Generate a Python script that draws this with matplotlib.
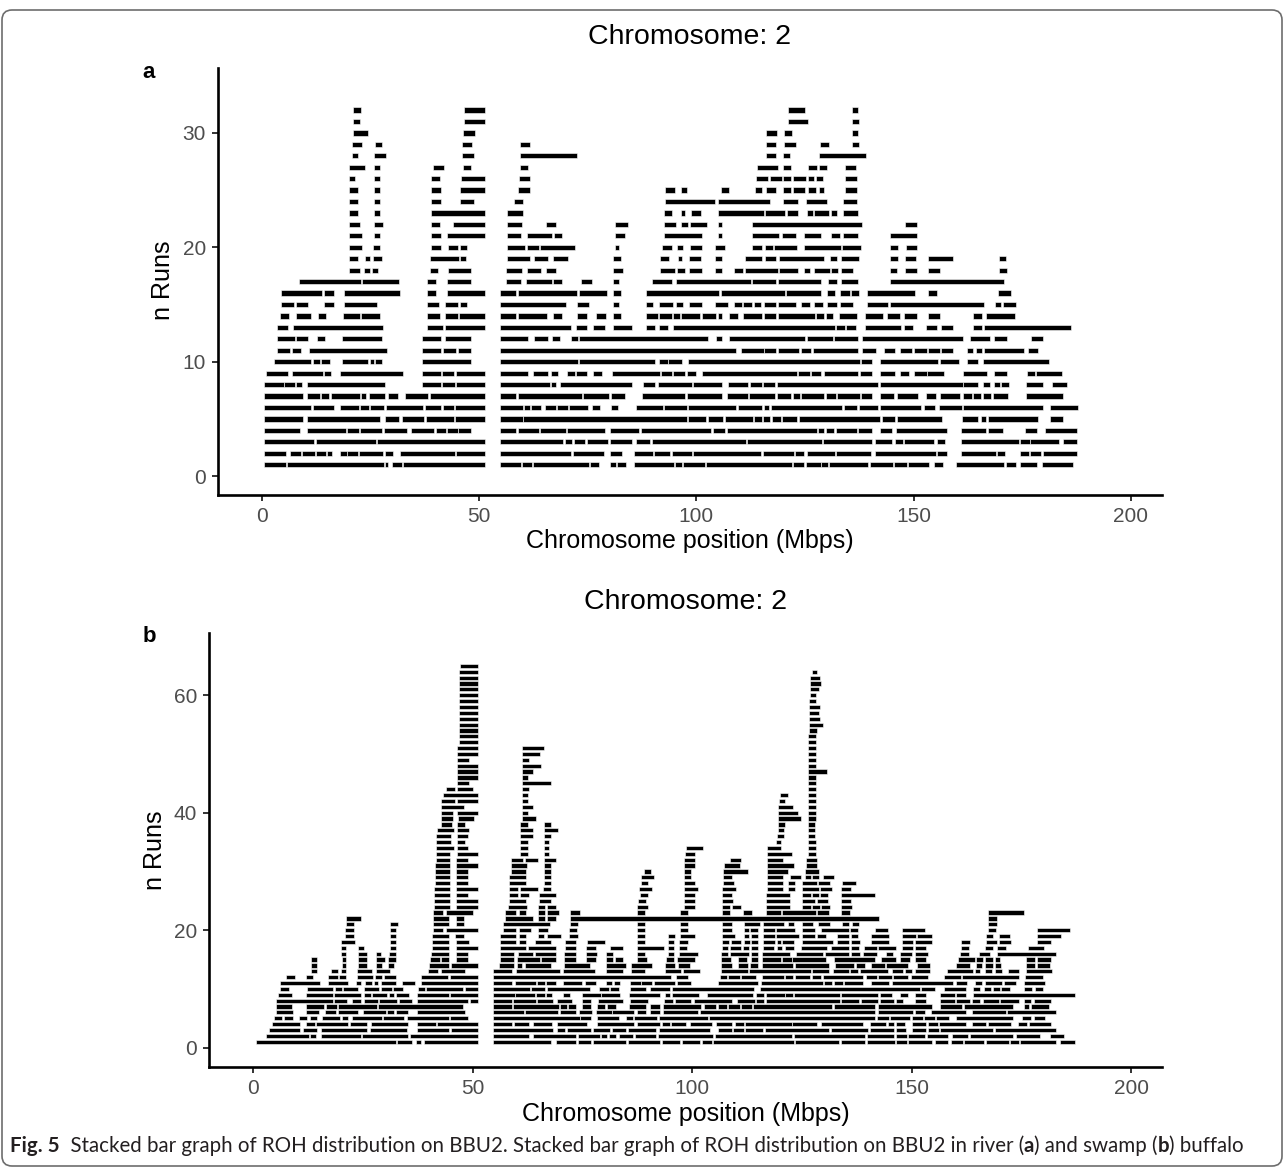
import matplotlib.pyplot as plt
from matplotlib.patches import FancyBboxPatch

# ROH runs per stack level, (start, end) in Mbps -- river buffalo (a)
runs_a = {
    32: [(21.0, 22.8), (46.6, 51.4), (121.2, 125.0), (135.8, 137.2)],
    31: [(20.9, 22.6), (46.5, 51.4), (121.1, 125.7), (135.8, 137.4)],
    30: [(20.9, 24.5), (46.2, 49.1), (116.1, 118.6), (120.1, 122.1), (135.8, 137.2)],
    29: [(20.7, 23.1), (26.0, 27.7), (46.1, 48.3), (59.4, 61.7), (116.1, 118.4), (120.1, 123.0), (128.4, 130.5), (135.8, 137.5)],
    28: [(20.7, 22.2), (25.7, 28.5), (46.1, 48.9), (59.4, 72.6), (116.1, 118.4), (120.0, 121.6), (128.2, 139.0)],
    27: [(20.0, 23.8), (25.7, 27.3), (39.5, 42.0), (46.2, 48.1), (59.4, 61.3), (113.9, 118.7), (119.9, 121.9), (125.8, 127.7),
         (128.2, 130.0), (134.2, 136.8)],
    26: [(20.0, 21.4), (25.7, 27.3), (39.0, 41.0), (45.9, 51.4), (59.3, 61.7), (113.8, 116.6), (116.9, 119.7), (119.9, 121.9),
         (122.3, 125.2), (125.7, 127.1), (127.5, 129.2), (134.2, 137.1)],
    25: [(20.0, 22.2), (25.7, 27.3), (39.0, 41.2), (45.7, 51.4), (59.0, 61.7), (92.7, 95.0), (96.5, 97.8), (105.7, 107.6),
         (113.4, 115.1), (116.1, 118.4), (119.9, 121.9), (122.3, 125.0), (125.7, 127.6), (128.2, 129.4), (134.2, 137.1)],
    24: [(20.0, 22.2), (25.7, 27.3), (39.0, 41.3), (45.7, 48.9), (58.1, 60.0), (92.7, 104.4), (104.9, 117.0), (119.9, 123.4),
         (125.3, 130.0), (133.8, 137.1)],
    23: [(20.0, 22.2), (25.7, 27.2), (39.0, 51.4), (56.5, 60.0), (92.5, 94.5), (96.4, 97.4), (98.7, 101.1), (104.9, 115.5),
         (115.8, 120.5), (120.9, 123.4), (125.4, 126.9), (127.2, 130.6), (131.1, 132.5), (133.8, 137.2)],
    22: [(20.0, 22.5), (25.7, 27.9), (39.0, 41.0), (43.9, 51.4), (56.5, 59.8), (65.4, 67.6), (81.4, 84.3), (92.5, 95.4),
         (96.4, 98.1), (98.5, 102.5), (104.9, 106.0), (112.9, 138.2), (148.0, 150.8)],
    21: [(20.0, 23.1), (25.7, 27.3), (39.0, 41.2), (42.6, 51.4), (56.5, 59.6), (61.0, 66.7), (67.2, 69.0), (81.2, 83.6),
         (92.5, 101.4), (104.9, 106.0), (112.9, 119.1), (119.7, 122.9), (124.8, 128.8), (131.1, 133.1), (133.8, 137.2),
         (144.7, 150.7)],
    20: [(20.0, 23.1), (25.5, 27.3), (39.0, 41.3), (42.8, 45.2), (45.7, 47.2), (56.5, 60.6), (61.0, 63.7), (64.0, 72.1),
         (81.2, 82.3), (92.0, 94.5), (95.5, 96.9), (98.6, 101.3), (104.3, 106.6), (112.8, 115.2), (115.7, 117.6),
         (117.9, 123.2), (124.8, 133.2), (133.5, 137.9), (144.7, 146.5), (148.2, 150.8)],
    19: [(20.0, 22.2), (23.7, 25.0), (25.5, 27.7), (38.8, 45.4), (45.7, 47.0), (56.5, 61.7), (62.6, 65.8), (67.1, 70.5),
         (80.8, 82.7), (91.6, 93.7), (95.7, 96.7), (98.4, 101.1), (104.3, 106.0), (111.3, 115.2), (115.9, 118.4),
         (119.1, 129.4), (130.8, 132.5), (133.4, 137.4), (144.7, 146.5), (148.0, 150.6), (153.3, 159.0), (169.6, 171.4)],
    18: [(20.0, 22.5), (23.6, 25.0), (25.3, 26.8), (38.8, 40.6), (42.8, 48.2), (56.3, 59.8), (61.0, 64.2), (65.3, 67.8),
         (80.8, 83.1), (91.6, 95.0), (95.5, 97.3), (98.4, 101.3), (104.3, 106.0), (108.7, 110.7), (111.1, 118.7),
         (119.1, 123.4), (124.9, 126.2), (127.1, 130.8), (131.1, 132.6), (133.4, 136.1), (144.7, 146.3), (148.0, 150.7),
         (153.3, 156.1), (169.6, 171.6)],
    17: [(8.5, 22.9), (23.1, 31.5), (38.0, 40.1), (42.6, 48.1), (56.3, 59.6), (60.8, 66.8), (67.1, 69.2), (73.5, 76.1),
         (80.8, 82.3), (89.8, 94.5), (95.3, 112.5), (112.8, 118.3), (118.9, 128.6), (130.4, 132.3), (133.2, 137.2),
         (144.7, 170.9)],
    16: [(4.5, 13.8), (14.3, 16.7), (19.0, 31.8), (38.0, 40.1), (42.6, 51.4), (54.7, 58.6), (59.0, 72.6), (73.1, 79.5),
         (80.8, 82.6), (88.4, 105.3), (105.6, 120.5), (120.7, 128.8), (130.0, 131.9), (133.0, 135.4), (135.6, 137.5),
         (139.3, 150.4), (153.3, 155.5), (169.4, 172.4)],
    15: [(4.5, 7.4), (7.9, 10.7), (14.3, 16.6), (18.9, 26.6), (38.0, 40.8), (42.1, 45.2), (45.7, 47.2), (54.7, 70.0),
         (72.5, 75.2), (80.8, 82.1), (88.4, 90.0), (91.5, 94.7), (95.3, 96.9), (98.4, 101.3), (104.3, 107.4), (108.6, 110.5),
         (110.7, 112.9), (113.3, 114.9), (115.5, 118.3), (118.9, 123.0), (124.2, 126.2), (127.1, 129.2), (130.0, 132.5),
         (133.0, 136.1), (139.3, 144.1), (144.5, 166.3), (168.7, 170.2), (170.6, 173.5)],
    14: [(4.2, 6.3), (7.9, 11.2), (13.0, 14.8), (18.7, 22.6), (22.8, 27.3), (38.0, 41.0), (42.1, 45.2), (45.4, 51.4),
         (54.7, 58.6), (59.0, 65.7), (67.1, 69.0), (72.5, 74.8), (76.9, 79.2), (80.8, 82.7), (88.4, 91.1), (91.5, 94.5),
         (94.7, 96.3), (96.5, 100.9), (101.3, 104.5), (104.9, 106.0), (107.6, 109.7), (110.7, 115.2), (115.6, 118.3),
         (118.9, 127.3), (127.6, 129.5), (129.8, 131.5), (132.8, 137.1), (138.8, 143.0), (144.0, 146.8), (147.9, 150.7),
         (153.3, 156.0), (163.8, 165.7), (166.7, 173.4)],
    13: [(3.5, 6.1), (7.2, 27.9), (37.9, 41.6), (42.1, 51.4), (54.7, 71.2), (72.2, 74.8), (76.3, 79.0), (80.8, 85.1),
         (88.4, 90.5), (91.4, 93.4), (94.7, 131.9), (132.1, 134.2), (134.5, 136.8), (138.8, 147.1), (147.9, 149.9),
         (152.8, 155.3), (156.3, 159.1), (163.8, 165.7), (166.3, 186.2)],
    12: [(3.5, 7.6), (7.8, 10.7), (12.8, 14.6), (18.5, 27.7), (36.9, 41.2), (42.1, 48.2), (54.7, 61.3), (62.6, 65.9),
         (66.8, 68.6), (71.1, 72.7), (73.1, 102.6), (104.5, 105.9), (107.5, 125.0), (125.4, 131.5), (131.8, 137.2),
         (138.2, 161.4), (163.1, 167.6), (168.5, 171.6), (177.1, 179.7)],
    11: [(3.5, 6.5), (6.9, 8.9), (10.8, 28.7), (36.9, 41.2), (41.6, 44.8), (45.2, 48.2), (54.7, 109.2), (110.3, 115.5),
         (115.6, 118.3), (118.9, 123.6), (124.0, 126.5), (126.9, 137.2), (138.1, 141.3), (143.1, 145.7), (146.9, 149.7),
         (150.0, 153.0), (153.3, 156.1), (156.3, 159.1), (162.3, 163.8), (164.3, 165.7), (166.3, 175.5), (176.4, 178.6)],
    10: [(2.8, 11.4), (11.7, 13.4), (13.6, 15.7), (18.5, 24.5), (24.8, 25.9), (26.1, 27.7), (36.9, 48.2), (54.7, 72.7),
         (73.1, 90.5), (91.4, 93.4), (93.6, 96.8), (98.0, 137.6), (137.9, 140.4), (142.4, 155.7), (156.0, 160.5),
         (162.4, 164.9), (165.9, 181.1)],
    9: [(1.0, 6.1), (6.9, 14.0), (14.3, 16.0), (18.0, 32.4), (36.8, 41.2), (41.4, 44.2), (44.8, 51.4), (54.7, 61.3),
        (62.4, 65.9), (66.5, 68.1), (70.2, 72.1), (72.3, 74.8), (76.2, 78.2), (80.7, 91.7), (91.9, 94.4), (94.6, 97.4),
        (97.8, 99.9), (101.3, 123.2), (123.5, 126.2), (126.5, 128.6), (129.3, 137.3), (137.6, 140.4), (142.4, 145.7),
        (146.8, 149.0), (150.0, 153.0), (153.2, 157.1), (161.3, 167.0), (168.5, 171.6), (176.2, 177.9), (178.3, 184.1)],
    8: [(0.6, 5.0), (5.2, 7.6), (7.8, 9.3), (10.4, 28.3), (36.8, 41.2), (41.4, 44.4), (44.7, 51.4), (54.7, 66.3),
        (66.6, 67.7), (68.6, 85.1), (87.8, 90.5), (91.1, 99.0), (99.2, 105.9), (107.4, 112.0), (112.4, 115.1),
        (115.3, 118.2), (118.6, 141.9), (142.3, 161.3), (161.5, 164.8), (166.0, 167.6), (168.6, 169.9), (170.2, 171.9),
        (175.9, 179.7), (181.8, 185.3)],
    7: [(0.6, 9.4), (10.4, 13.3), (13.5, 15.5), (16.0, 22.6), (22.8, 24.0), (24.7, 28.3), (29.0, 31.4), (32.9, 38.3),
        (38.7, 51.4), (54.7, 58.6), (58.9, 73.8), (74.0, 79.9), (80.3, 83.7), (87.6, 97.4), (97.8, 106.0), (107.0, 111.8),
        (112.2, 118.2), (118.6, 121.9), (122.3, 123.8), (124.2, 129.5), (129.8, 132.2), (132.5, 137.6), (137.9, 140.4),
        (142.4, 145.6), (146.1, 151.1), (152.8, 155.1), (156.0, 160.6), (161.3, 163.4), (163.8, 165.5), (165.9, 167.8),
        (168.3, 171.7), (175.9, 184.5)],
    6: [(0.6, 11.2), (11.7, 16.6), (18.0, 22.4), (22.7, 24.6), (24.8, 28.1), (28.5, 37.2), (37.6, 41.2), (41.6, 44.2),
        (44.5, 51.4), (54.7, 60.0), (60.3, 61.7), (62.0, 64.3), (65.2, 67.6), (67.9, 70.5), (70.7, 75.0), (75.9, 77.8),
        (80.3, 82.0), (86.2, 92.3), (92.5, 97.8), (98.1, 109.2), (109.6, 115.1), (115.5, 116.8), (117.2, 133.6),
        (133.9, 137.1), (137.4, 141.8), (142.4, 151.7), (152.4, 154.9), (155.8, 161.1), (161.3, 179.7), (181.5, 187.8)],
    5: [(0.6, 9.4), (10.4, 27.3), (28.3, 31.5), (32.3, 37.3), (37.7, 44.2), (44.5, 51.4), (54.7, 60.0), (60.2, 97.8),
        (98.1, 102.3), (102.6, 106.1), (106.5, 113.0), (113.3, 115.1), (115.4, 117.0), (117.4, 119.5), (119.8, 123.2),
        (123.6, 142.4), (142.8, 145.7), (146.1, 156.6), (161.2, 164.8), (165.5, 166.8), (167.2, 178.7), (181.4, 184.5)],
    4: [(0.6, 8.8), (10.3, 19.3), (19.5, 22.4), (22.7, 27.7), (28.2, 33.4), (34.3, 39.7), (40.0, 42.4), (42.6, 45.1),
        (45.2, 48.1), (54.7, 58.6), (58.9, 63.7), (64.0, 69.9), (70.2, 78.9), (80.1, 86.8), (87.3, 103.4), (103.9, 106.6),
        (107.0, 127.7), (128.1, 129.4), (129.8, 131.8), (132.2, 136.9), (137.3, 140.4), (142.3, 145.0), (145.9, 157.6),
        (161.0, 166.8), (167.1, 170.7), (175.7, 178.5), (180.3, 187.6)],
    3: [(0.6, 12.1), (12.5, 26.3), (26.6, 51.4), (54.7, 69.4), (69.8, 71.4), (71.9, 74.4), (74.9, 79.7), (80.1, 85.1),
        (86.1, 89.4), (89.7, 111.5), (111.7, 129.0), (129.2, 140.4), (141.1, 145.1), (145.7, 147.6), (147.9, 154.7),
        (155.3, 157.2), (161.0, 174.2), (174.5, 176.8), (176.9, 183.4), (184.3, 187.6)],
    2: [(0.6, 5.5), (6.5, 8.9), (9.2, 12.2), (12.5, 14.8), (14.9, 16.2), (18.0, 19.5), (19.7, 22.2), (22.4, 27.9),
        (28.3, 30.1), (31.8, 44.5), (44.6, 51.4), (54.7, 71.2), (71.6, 78.7), (80.1, 82.8), (85.7, 90.0), (90.3, 94.0),
        (94.3, 99.0), (99.3, 115.0), (115.3, 122.5), (122.8, 124.9), (125.4, 131.9), (132.2, 140.1), (141.1, 155.1),
        (155.3, 157.6), (161.0, 169.0), (169.3, 171.0), (174.5, 176.6), (176.9, 179.3), (179.9, 187.6)],
    1: [(0.6, 5.5), (5.7, 28.0), (28.3, 29.1), (29.9, 32.2), (32.4, 51.4), (54.7, 59.6), (59.8, 62.1), (62.3, 75.2),
        (75.5, 77.6), (80.1, 81.6), (81.8, 83.8), (85.7, 94.9), (95.2, 96.7), (97.0, 102.0), (102.3, 122.1), (122.3, 124.9),
        (125.2, 128.6), (128.8, 130.3), (130.6, 139.5), (140.0, 145.3), (145.6, 148.4), (148.7, 153.6), (154.8, 156.9),
        (159.8, 170.9), (171.4, 173.5), (174.5, 178.5), (179.6, 186.8)],
}

# swamp buffalo (b)
runs_b = {
    65: [(47.0, 51.2)],
    64: [(46.8, 51.2), (127.2, 128.5)],
    63: [(46.8, 51.2), (126.8, 129.1)],
    62: [(46.8, 51.2), (126.8, 129.4)],
    61: [(46.8, 51.2), (126.8, 128.8)],
    60: [(46.8, 51.2), (126.8, 128.1)],
    59: [(46.8, 51.2), (126.6, 128.1)],
    58: [(46.8, 51.2), (126.6, 129.1)],
    57: [(46.8, 51.2), (126.6, 128.8)],
    56: [(46.8, 51.2), (126.6, 129.1)],
    55: [(46.8, 51.2), (126.6, 129.7)],
    54: [(46.8, 51.2), (126.6, 128.3)],
    53: [(46.8, 51.2), (126.4, 128.1)],
    52: [(46.8, 51.2), (126.4, 128.1)],
    51: [(46.5, 51.2), (61.2, 66.2), (126.4, 128.1)],
    50: [(46.5, 51.2), (61.2, 65.4), (126.4, 128.1)],
    49: [(46.5, 49.1), (61.2, 62.8), (126.4, 128.1)],
    48: [(46.5, 51.2), (61.2, 65.5), (126.4, 128.1)],
    47: [(46.5, 51.2), (61.2, 63.6), (126.4, 130.6)],
    46: [(46.5, 51.2), (61.1, 62.6), (126.4, 128.1)],
    45: [(46.5, 49.1), (61.1, 67.7), (126.4, 128.1)],
    44: [(43.8, 45.9), (46.5, 50.0), (61.1, 62.8), (126.4, 128.1)],
    43: [(43.2, 51.2), (61.1, 62.6), (120.0, 121.7), (126.4, 128.1)],
    42: [(42.8, 46.0), (46.5, 51.2), (61.1, 62.6), (119.7, 121.1), (126.4, 128.1)],
    41: [(42.8, 48.0), (61.1, 63.7), (119.6, 123.0), (126.4, 128.1)],
    40: [(42.8, 45.5), (46.5, 51.2), (61.1, 62.6), (119.6, 124.0), (126.4, 128.1)],
    39: [(42.8, 45.5), (46.6, 50.3), (61.1, 64.3), (119.6, 124.7), (126.4, 128.1)],
    38: [(42.8, 45.3), (46.5, 48.2), (60.8, 62.6), (66.2, 67.7), (119.5, 121.1), (126.3, 127.9)],
    37: [(41.9, 45.7), (46.3, 49.1), (60.7, 63.7), (66.2, 69.5), (119.5, 120.9), (126.3, 127.9)],
    36: [(41.5, 45.0), (46.3, 48.8), (60.7, 63.7), (66.2, 67.7), (119.2, 120.9), (126.3, 127.9)],
    35: [(41.5, 45.0), (46.3, 48.2), (60.7, 62.6), (66.2, 67.4), (119.0, 120.2), (126.3, 128.1)],
    34: [(41.5, 45.7), (46.3, 48.8), (60.7, 62.6), (66.2, 67.4), (98.5, 102.5), (117.1, 120.2), (126.3, 128.1)],
    33: [(41.5, 44.9), (46.3, 51.2), (60.7, 62.6), (66.2, 67.4), (98.3, 100.6), (117.1, 122.6), (126.3, 128.1)],
    32: [(41.5, 44.7), (46.1, 48.8), (58.6, 61.5), (61.8, 64.9), (66.2, 68.9), (98.1, 100.6), (108.6, 111.2),
         (117.1, 120.7), (126.0, 128.3)],
    31: [(41.4, 44.7), (46.1, 51.2), (58.6, 62.4), (66.2, 67.7), (98.0, 100.6), (107.3, 110.9), (117.1, 123.2),
         (126.0, 128.3)],
    30: [(41.4, 44.7), (46.1, 48.8), (58.6, 62.2), (66.2, 67.7), (88.9, 90.7), (98.0, 99.8), (107.1, 112.6),
         (117.1, 121.9), (125.6, 128.8)],
    29: [(41.4, 44.7), (46.1, 48.8), (58.3, 62.2), (66.2, 67.7), (88.4, 91.3), (98.0, 99.8), (107.1, 109.0),
         (117.1, 120.7), (122.2, 124.7), (125.6, 127.0), (127.2, 128.8), (129.8, 132.3)],
    28: [(41.4, 44.7), (46.1, 48.8), (58.3, 62.2), (66.2, 67.7), (88.4, 89.9), (98.0, 100.6), (107.1, 109.6),
         (117.1, 120.7), (121.9, 123.4), (124.9, 128.3), (128.7, 131.3), (134.2, 137.2)],
    27: [(41.2, 44.7), (46.1, 51.2), (58.3, 60.3), (60.7, 64.9), (66.0, 67.7), (87.9, 90.9), (98.0, 101.3),
         (106.8, 109.9), (117.1, 120.7), (121.9, 123.4), (124.9, 128.8), (129.2, 131.9), (133.8, 136.1)],
    26: [(41.2, 44.7), (46.1, 48.8), (58.3, 60.3), (60.7, 62.8), (65.1, 68.9), (88.0, 89.8), (98.0, 100.6),
         (106.8, 109.0), (116.9, 122.2), (124.9, 127.0), (127.3, 128.8), (129.2, 131.0), (133.8, 141.6)],
    25: [(41.2, 44.7), (46.1, 51.2), (58.3, 62.2), (65.0, 67.7), (87.6, 89.4), (98.0, 100.6), (106.8, 109.3),
         (116.9, 122.2), (124.9, 127.9), (128.5, 131.0), (133.8, 136.1)],
    24: [(41.2, 44.7), (46.1, 51.2), (58.0, 62.4), (64.9, 66.4), (66.9, 68.9), (87.5, 89.8), (98.0, 100.6),
         (106.7, 108.6), (109.0, 111.1), (116.7, 122.2), (124.9, 127.0), (127.3, 129.2), (129.4, 131.3), (133.8, 136.4)],
    23: [(41.0, 43.3), (43.9, 50.1), (57.3, 59.8), (60.5, 62.2), (64.9, 66.4), (66.9, 69.6), (72.1, 74.5), (87.4, 89.2),
         (97.1, 99.0), (106.7, 108.6), (111.6, 113.5), (116.7, 120.2), (120.5, 128.1), (128.5, 131.1), (133.8, 135.9),
         (167.4, 175.5)],
    22: [(21.2, 24.6), (41.0, 44.6), (46.1, 48.0), (57.3, 63.6), (64.9, 66.4), (66.9, 68.9), (72.1, 142.6),
         (167.4, 169.4)],
    21: [(21.2, 22.9), (31.2, 33.0), (41.0, 44.6), (46.1, 48.0), (56.9, 67.5), (72.1, 74.0), (87.3, 89.2), (97.1, 99.0),
         (106.7, 109.0), (111.8, 115.4), (116.2, 120.9), (121.9, 123.2), (124.9, 127.5), (128.7, 131.3), (134.0, 135.7),
         (136.4, 137.9), (167.4, 169.4)],
    20: [(20.8, 22.9), (31.2, 32.6), (41.0, 43.3), (43.9, 51.2), (56.9, 59.8), (60.5, 63.3), (64.9, 67.1), (71.9, 73.7),
         (87.3, 89.2), (97.1, 99.0), (106.7, 109.0), (111.8, 112.9), (113.1, 114.9), (116.2, 118.8), (119.0, 123.4),
         (124.9, 127.9), (129.4, 135.7), (135.9, 137.8), (141.6, 144.6), (147.8, 152.9), (167.4, 169.1), (178.5, 186.0)],
    19: [(20.8, 22.9), (31.2, 32.6), (40.8, 44.6), (46.0, 48.0), (56.3, 59.8), (60.5, 62.2), (64.9, 66.2), (66.8, 70.0),
         (71.9, 74.0), (87.3, 89.2), (94.5, 96.0), (97.1, 100.6), (106.7, 109.7), (111.8, 112.9), (113.4, 114.9),
         (116.2, 118.8), (119.1, 124.3), (124.9, 127.9), (128.5, 130.4), (132.9, 135.7), (136.1, 137.8), (140.8, 144.8),
         (147.8, 150.9), (151.3, 154.5), (166.8, 168.5), (169.9, 172.4), (178.5, 184.1)],
    18: [(19.9, 23.1), (31.2, 32.6), (40.6, 44.6), (46.1, 49.1), (56.3, 59.9), (60.5, 62.1), (64.1, 67.7), (70.9, 73.4),
         (76.1, 80.1), (87.3, 89.2), (94.5, 95.8), (96.9, 99.0), (106.7, 108.3), (108.8, 111.2), (111.8, 113.1),
         (113.4, 114.9), (116.2, 118.8), (119.2, 120.2), (120.5, 123.2), (124.9, 132.1), (132.9, 135.7), (136.1, 138.2),
         (140.8, 144.8), (147.8, 150.3), (150.7, 154.7), (161.3, 163.2), (166.8, 169.3), (169.9, 172.7), (178.5, 181.8)],
    17: [(19.9, 21.2), (23.9, 25.1), (31.2, 32.6), (40.6, 44.6), (46.1, 51.2), (56.3, 62.2), (62.6, 69.0), (70.9, 73.4),
         (75.7, 78.0), (81.2, 84.1), (87.3, 93.5), (94.5, 95.8), (96.9, 98.8), (106.7, 108.2), (108.6, 111.2),
         (111.6, 112.9), (113.4, 114.9), (116.2, 118.7), (119.2, 120.5), (121.1, 123.2), (124.7, 130.6), (131.7, 135.7),
         (136.1, 137.9), (139.2, 142.0), (142.3, 146.5), (147.8, 150.3), (150.7, 153.3), (161.1, 163.0), (166.7, 168.5),
         (169.5, 171.5), (176.5, 180.1)],
    16: [(19.9, 21.2), (23.9, 25.8), (27.9, 29.0), (30.9, 32.6), (40.4, 44.5), (46.1, 48.8), (56.3, 59.4), (60.3, 63.7),
         (64.1, 68.9), (70.7, 73.4), (75.7, 78.3), (80.4, 82.0), (87.3, 89.2), (94.5, 95.8), (96.9, 101.3),
         (106.5, 108.2), (108.6, 112.9), (113.4, 114.9), (115.8, 122.2), (123.7, 129.8), (130.2, 135.7), (136.1, 138.2),
         (138.9, 142.0), (144.2, 145.8), (147.3, 150.0), (150.7, 153.7), (160.9, 163.0), (165.3, 167.9), (169.5, 182.9)],
    15: [(13.2, 14.6), (20.1, 21.2), (23.9, 25.8), (27.9, 30.0), (30.7, 32.6), (40.2, 42.5), (42.8, 44.5), (46.1, 48.8),
         (56.3, 59.4), (60.1, 65.2), (65.6, 68.9), (70.7, 73.4), (75.7, 78.0), (80.4, 82.0), (82.3, 84.1), (87.3, 89.7),
         (94.1, 95.8), (96.5, 100.6), (106.5, 108.8), (110.5, 112.4), (113.4, 115.0), (115.8, 120.2), (120.5, 122.6),
         (122.8, 130.4), (132.3, 141.6), (143.1, 146.5), (147.3, 149.6), (150.7, 153.3), (160.5, 164.3), (164.7, 166.2),
         (166.7, 168.6), (168.9, 170.2), (176.1, 178.0), (178.5, 181.6)],
    14: [(13.2, 14.6), (20.1, 21.2), (23.9, 25.8), (27.9, 29.4), (30.7, 32.1), (40.0, 44.5), (45.0, 51.2), (56.0, 59.4),
         (60.1, 61.3), (61.8, 67.7), (70.7, 76.6), (80.4, 85.0), (86.0, 90.9), (93.7, 96.1), (96.7, 99.4), (106.5, 109.1),
         (110.3, 112.6), (113.1, 114.9), (115.8, 123.0), (123.5, 131.1), (132.5, 136.9), (137.2, 139.3), (140.8, 143.9),
         (144.2, 149.2), (151.1, 154.1), (160.1, 163.3), (164.6, 165.9), (166.7, 168.6), (168.9, 170.3), (176.1, 178.0),
         (178.5, 181.4)],
    13: [(13.2, 14.6), (17.8, 19.2), (19.9, 21.2), (23.7, 27.1), (27.9, 31.2), (39.8, 42.1), (42.8, 48.2), (54.6, 58.9),
         (59.9, 69.8), (70.6, 77.8), (80.4, 84.1), (86.0, 89.2), (93.7, 97.5), (97.9, 101.7), (106.5, 112.6),
         (112.9, 127.0), (127.3, 131.1), (132.1, 135.7), (135.9, 137.8), (138.2, 144.6), (145.4, 148.0), (148.4, 150.1),
         (150.7, 154.1), (158.0, 163.9), (164.3, 165.6), (166.7, 168.3), (168.9, 170.5), (172.0, 174.4), (176.1, 181.9)],
    12: [(7.5, 9.4), (12.1, 13.6), (16.9, 19.2), (19.5, 21.2), (23.7, 27.3), (27.7, 29.2), (29.8, 32.4), (38.1, 44.4),
         (44.8, 51.2), (54.6, 95.2), (96.2, 99.0), (106.3, 108.0), (108.2, 110.8), (111.2, 114.6), (115.8, 120.9),
         (121.2, 123.0), (123.4, 126.8), (127.2, 129.3), (129.8, 138.9), (139.5, 142.0), (142.3, 145.4), (145.8, 149.2),
         (149.8, 153.7), (157.3, 161.1), (161.5, 174.4), (175.9, 180.0)],
    11: [(6.0, 15.1), (16.9, 21.6), (23.3, 24.6), (25.4, 27.1), (27.5, 28.4), (29.0, 32.6), (33.9, 36.8), (38.1, 51.2),
         (54.6, 58.9), (59.7, 64.3), (64.7, 66.4), (66.7, 69.0), (70.6, 74.9), (75.5, 78.0), (80.4, 81.6), (82.1, 83.6),
         (85.7, 88.2), (88.4, 90.9), (91.3, 96.0), (96.4, 99.8), (105.9, 114.9), (115.6, 129.8), (130.1, 131.9),
         (132.3, 134.4), (134.6, 138.9), (140.8, 144.8), (145.4, 159.5), (160.1, 162.6), (164.4, 165.9), (166.7, 170.6),
         (171.0, 173.8), (175.6, 180.3)],
    10: [(6.0, 8.2), (12.3, 18.2), (18.6, 20.1), (20.5, 23.9), (25.2, 28.6), (29.0, 31.5), (31.9, 34.1), (37.5, 39.1),
         (39.4, 47.8), (48.2, 51.2), (54.6, 63.0), (63.3, 66.5), (66.9, 76.6), (78.7, 81.0), (81.3, 83.3), (85.7, 89.5),
         (90.3, 94.9), (95.3, 114.1), (115.4, 151.8), (152.0, 155.2), (157.3, 162.4), (163.9, 165.6), (166.4, 168.1),
         (168.5, 170.2), (170.4, 172.4), (175.6, 177.4), (178.0, 180.0)],
    9: [(5.6, 8.7), (12.1, 18.2), (18.4, 24.6), (25.2, 26.8), (27.1, 30.5), (30.9, 32.0), (32.4, 35.4), (37.3, 44.5),
        (44.9, 51.2), (54.6, 59.6), (59.7, 64.1), (64.3, 66.4), (66.7, 68.1), (70.6, 72.1), (74.9, 79.1), (79.3, 83.6),
        (85.6, 92.7), (93.7, 95.0), (95.4, 101.5), (103.3, 113.9), (114.6, 116.4), (116.7, 121.1), (121.2, 123.0),
        (123.2, 133.6), (133.8, 142.3), (142.7, 145.5), (147.3, 149.2), (150.7, 153.2), (156.5, 159.8), (160.1, 162.4),
        (163.9, 187.2)],
    8: [(5.1, 18.2), (18.4, 21.4), (22.5, 24.6), (25.2, 28.4), (28.6, 32.7), (33.2, 36.2), (37.2, 48.9), (49.3, 51.2),
        (54.6, 58.9), (59.2, 64.3), (64.7, 68.3), (69.2, 72.5), (74.9, 77.0), (78.5, 84.2), (85.7, 90.0), (93.6, 95.6),
        (96.1, 99.8), (100.3, 109.1), (110.1, 114.3), (114.6, 116.4), (116.7, 133.6), (133.8, 137.9), (138.4, 142.2),
        (142.7, 146.0), (146.5, 148.0), (150.7, 153.2), (156.4, 159.8), (160.1, 163.3), (163.8, 165.6), (166.3, 169.8),
        (170.0, 174.4), (175.6, 177.2), (177.8, 181.6)],
    7: [(5.1, 8.7), (12.1, 16.1), (16.5, 19.1), (19.3, 28.1), (28.4, 47.8), (54.6, 58.9), (59.2, 69.6), (69.9, 71.5),
        (71.7, 73.6), (74.9, 77.0), (78.2, 80.1), (80.6, 82.6), (85.6, 89.5), (90.3, 92.6), (93.3, 102.0), (102.7, 105.3),
        (105.8, 107.8), (108.2, 110.8), (111.1, 113.7), (113.9, 131.9), (132.3, 141.6), (142.2, 154.5), (156.4, 161.5),
        (162.0, 173.1), (175.6, 176.8), (177.2, 181.3)],
    6: [(5.1, 9.1), (12.1, 14.9), (16.3, 18.8), (19.2, 23.9), (24.9, 30.3), (30.5, 32.0), (32.4, 35.3), (37.2, 48.2),
        (54.6, 61.6), (61.8, 69.4), (69.9, 73.6), (74.2, 77.1), (78.0, 81.6), (81.8, 86.7), (87.3, 89.5), (90.3, 92.6),
        (93.3, 101.4), (101.7, 141.6), (142.2, 150.3), (150.7, 152.9), (154.3, 162.4), (163.8, 171.4), (171.7, 182.9)],
    5: [(4.7, 6.6), (7.0, 9.1), (10.4, 12.3), (12.9, 14.4), (15.7, 19.7), (20.1, 21.6), (22.4, 29.2), (29.6, 34.3),
        (34.9, 44.5), (44.9, 48.8), (54.6, 74.4), (74.5, 77.0), (78.2, 83.3), (84.8, 86.5), (86.7, 92.0), (92.4, 103.5),
        (103.8, 141.6), (142.0, 144.8), (145.0, 149.6), (150.1, 152.6), (152.7, 155.2), (155.6, 158.5), (160.0, 173.1),
        (175.2, 177.2), (177.8, 180.3)],
    4: [(4.3, 10.6), (11.9, 14.0), (14.2, 21.6), (22.0, 25.9), (26.8, 35.3), (37.3, 41.7), (41.9, 51.2), (54.6, 59.0),
        (59.4, 62.8), (63.6, 68.1), (69.2, 76.0), (78.2, 86.7), (87.3, 92.6), (93.0, 94.9), (95.2, 98.6), (99.4, 104.5),
        (105.5, 109.1), (109.7, 111.8), (112.1, 122.6), (122.8, 128.5), (129.3, 138.9), (140.4, 144.2), (144.5, 146.0),
        (146.4, 148.4), (150.1, 153.3), (153.8, 156.0), (156.2, 162.3), (163.8, 167.0), (167.3, 172.7), (174.2, 176.2),
        (176.6, 181.6)],
    3: [(3.6, 10.6), (11.4, 14.6), (15.5, 25.9), (26.6, 35.1), (37.2, 44.6), (45.0, 51.2), (54.6, 68.3), (69.2, 70.9),
        (71.5, 77.0), (77.4, 81.3), (81.8, 85.0), (85.4, 91.8), (92.4, 104.0), (105.8, 109.1), (109.3, 111.8),
        (112.1, 116.2), (116.5, 131.1), (131.6, 140.1), (140.4, 146.0), (146.5, 148.6), (150.1, 153.2), (153.6, 156.1),
        (156.4, 168.6), (168.9, 182.9)],
    2: [(2.8, 12.7), (12.9, 14.2), (15.4, 24.5), (24.8, 35.3), (35.6, 51.2), (54.6, 62.7), (63.6, 73.4), (74.0, 78.9),
        (79.2, 80.6), (81.0, 82.6), (83.3, 86.5), (87.0, 91.8), (92.2, 104.8), (105.2, 122.8), (123.1, 139.3),
        (139.7, 146.0), (146.4, 148.8), (149.2, 152.9), (153.5, 158.3), (159.2, 162.8), (163.2, 173.1), (173.8, 179.3),
        (181.4, 184.7)],
    1: [(0.7, 32.4), (32.7, 36.2), (37.0, 38.1), (38.8, 51.2), (54.6, 67.8), (69.0, 73.6), (74.0, 77.0), (77.4, 85.0),
        (85.3, 92.6), (93.0, 97.3), (97.7, 101.7), (102.1, 104.4), (104.8, 123.2), (123.5, 133.4), (133.8, 139.3),
        (139.7, 146.1), (146.5, 148.8), (149.2, 154.5), (155.4, 158.3), (158.9, 161.7), (162.0, 166.4), (166.8, 172.1),
        (172.4, 174.4), (174.7, 182.9), (183.8, 187.2)],
}

x_ticks = [0, 50, 100, 150, 200]
y_ticks_a = [0, 10, 20, 30]
y_ticks_b = [0, 20, 40, 60]
title = 'Chromosome: 2'
x_label = 'Chromosome position (Mbps)'
y_label = 'n Runs'

W, H = 1284, 1168
plt.rcParams['font.family'] = ['Liberation Sans', 'DejaVu Sans']

fig = plt.figure(figsize=(W / 100, H / 100), dpi=100)


def px_axes(left, top, right, bottom):
    return fig.add_axes([left / W, 1 - bottom / H, (right - left) / W, (bottom - top) / H])


def draw_runs(ax, runs, height):
    for level, segs in runs.items():
        ax.broken_barh([(s, e - s) for s, e in segs], (level - height / 2, height),
                       facecolor='black', edgecolor='white', linewidth=0.4)


def style(ax, yticks, xlim, ylim):
    ax.set_xlim(*xlim)
    ax.set_ylim(*ylim)
    ax.set_xticks(x_ticks)
    ax.set_yticks(yticks)
    for s in ['top', 'right']:
        ax.spines[s].set_visible(False)
    for s in ['left', 'bottom']:
        ax.spines[s].set_linewidth(1.9)
        ax.spines[s].set_color('black')
        ax.spines[s].set_capstyle('projecting')
    ax.tick_params(length=4.6, width=1.4, color='#333333', labelcolor='#4d4d4d',
                   labelsize=15, pad=4)


ax_a = px_axes(218, 68, 1162, 495)
draw_runs(ax_a, runs_a, 0.46)
style(ax_a, y_ticks_a, (-10.1, 207.2), (-1.65, 35.67))

ax_b = px_axes(209, 633, 1162, 1067)
draw_runs(ax_b, runs_b, 0.72)
style(ax_b, y_ticks_b, (-10.1, 207.0), (-3.3, 70.6))

# titles, axis labels, panel letters
for cx, ty, ly, yx, yy, letter, ly_letter in [(690, 37, 541, 163, 280, 'a', 73),
                                              (686, 602, 1114, 155, 850, 'b', 636)]:
    fig.text(cx / W, 1 - ty / H, title, ha='center', va='center', fontsize=20.5)
    fig.text(cx / W, 1 - ly / H, x_label, ha='center', va='center', fontsize=18)
    fig.text(yx / W, 1 - yy / H, y_label, ha='center', va='center', fontsize=18, rotation=90)
    fig.text(149 / W, 1 - ly_letter / H, letter, ha='center', va='center', fontsize=16, fontweight='bold')

# rounded outer frame
frame = FancyBboxPatch((2, 2), W - 4, H - 12, boxstyle='round,pad=0,rounding_size=10',
                       transform=None, facecolor='none', edgecolor='#6d6d6d', linewidth=1.2)
fig.patches.append(frame)

# caption built from pieces
pieces = [('Fig. 5', 'bold'),
          ('  Stacked bar graph of ROH distribution on BBU2. Stacked bar graph of ROH distribution on BBU2 in river (',
           'normal'),
          ('a', 'bold'), (') and swamp (', 'normal'), ('b', 'bold'), (') buffalo', 'normal')]
cap_font = ['Lato', 'DejaVu Sans']
renderer = fig.canvas.get_renderer()
size = 10
total = 0
for txt, wt in pieces:
    t = fig.text(0, 0, txt, fontsize=size, fontweight=wt, family=cap_font)
    total += t.get_window_extent(renderer).width
    t.remove()
size = size * 1237 / total
x = 10
for txt, wt in pieces:
    t = fig.text(x / W, 1 - 1146 / H, txt, fontsize=size, fontweight=wt, family=cap_font,
                 va='center', color='#231f20')
    x += t.get_window_extent(renderer).width

fig.savefig('out.png', dpi=100)
